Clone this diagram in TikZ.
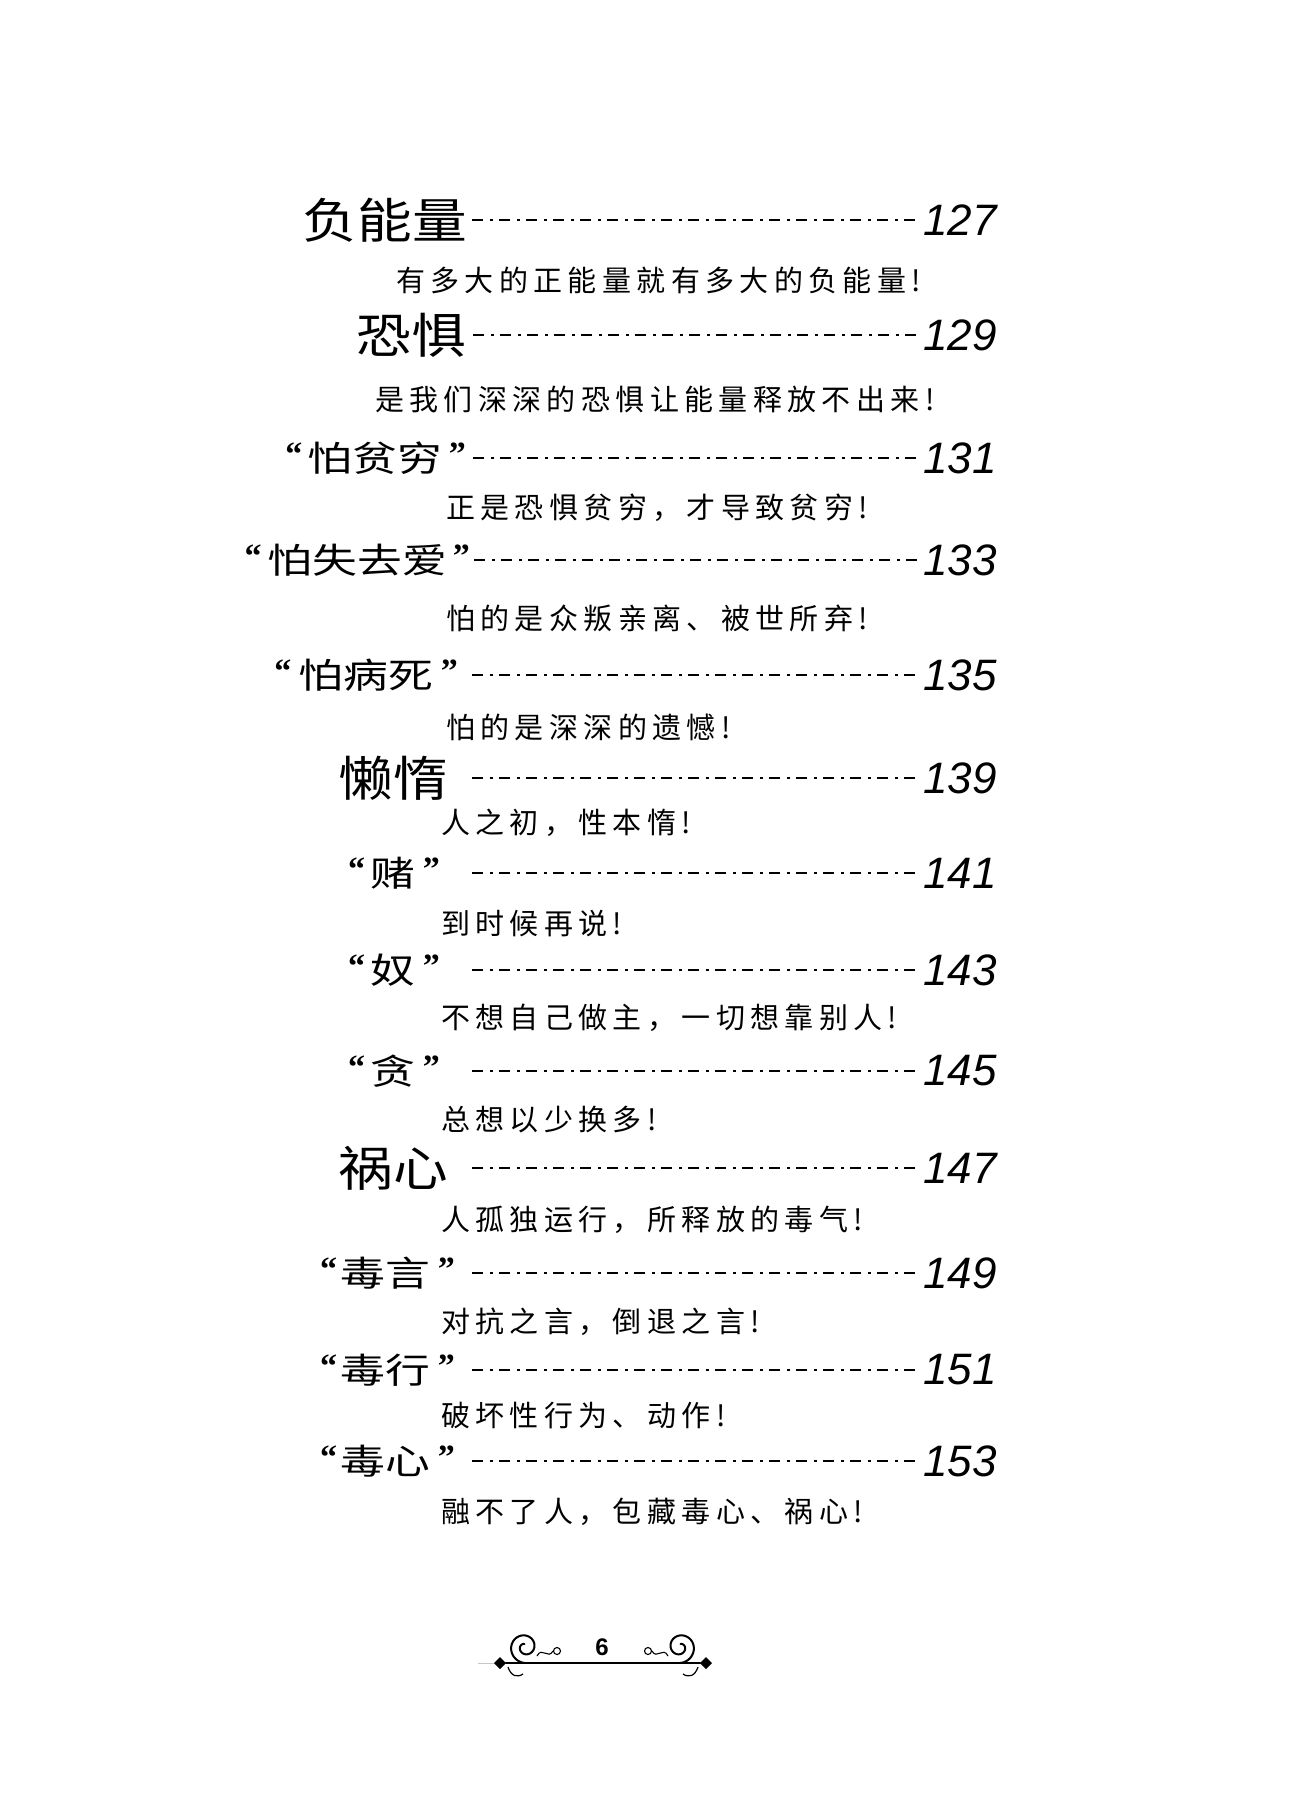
\documentclass[tikz,border=0pt]{standalone}
\usepackage{fontspec}
\newfontfamily\cjkT[FakeStretch=1.14]{Noto Sans CJK SC}
\newfontfamily\cjkQ[FakeStretch=1.28]{Noto Sans CJK SC}
\newfontfamily\cjkS[LetterSpace=18.5]{Noto Sans CJK SC}
\newfontfamily\numfont{Liberation Sans}
\newfontfamily\quotefont{Liberation Serif}
\newcommand\oq{\raisebox{6pt}{\quotefont\bfseries\fontsize{34}{36}\selectfont “}}
\newcommand\cq{\raisebox{6pt}{\quotefont\bfseries\fontsize{34}{36}\selectfont ”}}
\tikzset{
  maint/.style={inner sep=0pt, anchor=east, font=\cjkT\fontsize{48}{52}\selectfont},
  quot/.style={inner sep=0pt, anchor=east, font=\cjkQ\fontsize{35}{38}\selectfont},
  subt/.style={inner sep=0pt, anchor=west, font=\cjkS\fontsize{29}{33}\selectfont},
  pnum/.style={inner sep=0pt, anchor=east, font=\numfont\itshape\fontsize{44}{48}\selectfont},
  leader/.style={line width=2.8pt, dash pattern=on 11pt off 7pt on 2.5pt off 6.5pt},
  orn/.style={line width=2pt, line cap=round},
}
\begin{document}
\begin{tikzpicture}[x=1pt, y=-1pt]
\fill[white] (0,0) rectangle (1310,1800);
\useasboundingbox (0,0) rectangle (1310,1800);

% ---- row 1
\node[maint] (t1) at (467,220) {负能量};
\node[pnum] (n1) at (997,220) {127};
\coordinate (l1) at (472,220);
\draw[leader] (l1) -- ([xshift=-4pt]n1.west);
\node[subt] (s1) at (396,280) {有多大的正能量就有多大的负能量!};
% ---- row 2
\node[maint] (t2) at (466,335) {恐惧};
\node[pnum] (n2) at (997,335) {129};
\coordinate (l2) at (473,335);
\draw[leader] (l2) -- ([xshift=-4pt]n2.west);
\node[subt] (s2) at (375,399) {是我们深深的恐惧让能量释放不出来!};
% ---- row 3
\node[quot] (t3) at (466,458) {\oq\hspace{5pt}怕贫穷\hspace{7pt}\cq};
\node[pnum] (n3) at (997,458) {131};
\coordinate (l3) at (473,458);
\draw[leader] (l3) -- ([xshift=-4pt]n3.west);
\node[subt] (s3) at (446,508) {正是恐惧贫穷，才导致贫穷!};
% ---- row 4
\node[quot] (t4) at (470,560) {\oq\hspace{6pt}怕失去爱\hspace{6pt}\cq};
\node[pnum] (n4) at (997,560) {133};
\coordinate (l4) at (474,560);
\draw[leader] (l4) -- ([xshift=-4pt]n4.west);
\node[subt] (s4) at (446,618) {怕的是众叛亲离、被世所弃!};
% ---- row 5
\node[quot] (t5) at (458,675) {\oq\hspace{7pt}怕病死\hspace{8pt}\cq};
\node[pnum] (n5) at (997,675) {135};
\coordinate (l5) at (472,675);
\draw[leader] (l5) -- ([xshift=-4pt]n5.west);
\node[subt] (s5) at (446,727) {怕的是深深的遗憾!};
% ---- row 6
\node[maint] (t6) at (448,778) {懒惰};
\node[pnum] (n6) at (997,778) {139};
\coordinate (l6) at (472,778);
\draw[leader] (l6) -- ([xshift=-4pt]n6.west);
\node[subt] (s6) at (441,823) {人之初，性本惰!};
% ---- row 7
\node[quot] (t7) at (440,873) {\oq\hspace{5pt}赌\hspace{8pt}\cq};
\node[pnum] (n7) at (997,873) {141};
\coordinate (l7) at (472,873);
\draw[leader] (l7) -- ([xshift=-4pt]n7.west);
\node[subt] (s7) at (441,924) {到时候再说!};
% ---- row 8
\node[quot] (t8) at (440,970) {\oq\hspace{5pt}奴\hspace{8pt}\cq};
\node[pnum] (n8) at (997,970) {143};
\coordinate (l8) at (472,970);
\draw[leader] (l8) -- ([xshift=-4pt]n8.west);
\node[subt] (s8) at (441,1018) {不想自己做主，一切想靠别人!};
% ---- row 9
\node[quot] (t9) at (440,1071) {\oq\hspace{5pt}贪\hspace{8pt}\cq};
\node[pnum] (n9) at (997,1071) {145};
\coordinate (l9) at (472,1071);
\draw[leader] (l9) -- ([xshift=-4pt]n9.west);
\node[subt] (s9) at (441,1120) {总想以少换多!};
% ---- row 10
\node[maint] (t10) at (448,1168) {祸心};
\node[pnum] (n10) at (997,1168) {147};
\coordinate (l10) at (472,1168);
\draw[leader] (l10) -- ([xshift=-4pt]n10.west);
\node[subt] (s10) at (441,1220) {人孤独运行，所释放的毒气!};
% ---- row 11
\node[quot] (t11) at (455,1273) {\oq\hspace{3pt}毒言\hspace{8pt}\cq};
\node[pnum] (n11) at (997,1273) {149};
\coordinate (l11) at (472,1273);
\draw[leader] (l11) -- ([xshift=-4pt]n11.west);
\node[subt] (s11) at (441,1322) {对抗之言，倒退之言!};
% ---- row 12
\node[quot] (t12) at (455,1370) {\oq\hspace{3pt}毒行\hspace{8pt}\cq};
\node[pnum] (n12) at (997,1370) {151};
\coordinate (l12) at (472,1370);
\draw[leader] (l12) -- ([xshift=-4pt]n12.west);
\node[subt] (s12) at (441,1415) {破坏性行为、动作!};
% ---- row 13
\node[quot] (t13) at (455,1461) {\oq\hspace{3pt}毒心\hspace{8pt}\cq};
\node[pnum] (n13) at (997,1461) {153};
\coordinate (l13) at (472,1461);
\draw[leader] (l13) -- ([xshift=-4pt]n13.west);
\node[subt] (s13) at (441,1512) {融不了人，包藏毒心、祸心!};

% ---- footer ornament
\draw[gray!45, line width=0.8pt] (478,1663) -- (494,1663);
\draw[line width=2.4pt, line cap=round] (506,1663) -- (700,1663);
\draw[orn] plot[domain=90:620, samples=150, variable=\t]
  ({525+(16-13*(\t-90)/530)*cos(\t)}, {1647+(16-13*(\t-90)/530)*sin(\t)});
\draw[orn] plot[domain=90:620, samples=150, variable=\t]
  ({680-(16-13*(\t-90)/530)*cos(\t)}, {1647+(16-13*(\t-90)/530)*sin(\t)});
\fill (494,1663) -- (500,1657) -- (506,1663) -- (500,1669) -- cycle;
\fill (700,1663) -- (706,1657) -- (712,1663) -- (706,1669) -- cycle;
\draw[line width=1.2pt] (508,1667) .. controls (511,1676) and (517,1678) .. (523,1674);
\draw[line width=1.2pt] (698,1667) .. controls (695,1676) and (689,1678) .. (683,1674);
\draw[line width=1.1pt] (537,1656) .. controls (542,1646) and (548,1660) .. (553,1651);
\draw[line width=1.1pt] (557,1651) circle[radius=3.5pt];
\draw[line width=1.1pt] (668,1656) .. controls (663,1646) and (657,1660) .. (652,1651);
\draw[line width=1.1pt] (648,1651) circle[radius=3.5pt];
\node[font=\numfont\bfseries\fontsize{24}{26}\selectfont, inner sep=0pt] (pg) at (602,1647) {6};
\end{tikzpicture}
\end{document}
